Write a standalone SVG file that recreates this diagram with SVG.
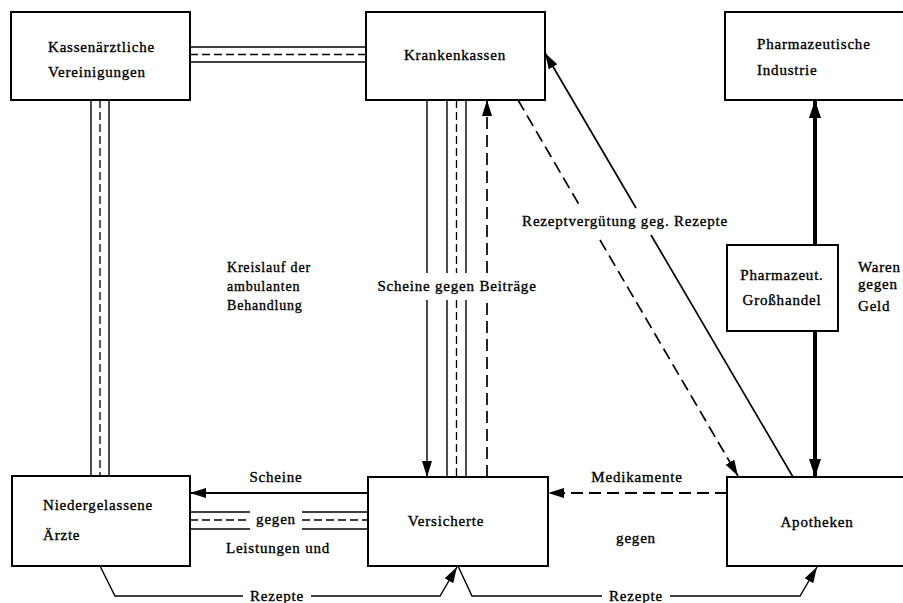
<svg xmlns="http://www.w3.org/2000/svg" width="903" height="603" viewBox="0 0 903 603">
<style>
.box{fill:#fff;stroke:#000;stroke-width:2}
.t{font-family:"Liberation Serif","DejaVu Serif",serif;font-size:15px;letter-spacing:0.8px;fill:#000;stroke:#000;stroke-width:0.35}
.s{fill:none;stroke:#000;stroke-width:1.4}
.d{fill:none;stroke:#000;stroke-width:1.3;stroke-dasharray:8 4}
.dl{fill:none;stroke:#000;stroke-width:1.7;stroke-dasharray:12 6}
.th{fill:none;stroke:#000;stroke-width:4}
</style>
<defs>
<marker id="ah" viewBox="0 0 16 10" refX="16" refY="5" markerWidth="16" markerHeight="10" orient="auto" markerUnits="userSpaceOnUse"><path d="M0,0 L16,5 L0,10 z" fill="#000"/></marker>
<marker id="ahb" viewBox="0 0 18 12" refX="18" refY="6" markerWidth="18" markerHeight="12" orient="auto" markerUnits="userSpaceOnUse"><path d="M0,0 L18,6 L0,12 z" fill="#000"/></marker>
</defs>
<rect width="903" height="603" fill="#fff"/>
<g id="connectors">
<line class="s" x1="190" y1="47" x2="366" y2="47"/>
<line class="d" x1="190" y1="54.5" x2="366" y2="54.5"/>
<line class="s" x1="190" y1="62" x2="366" y2="62"/>
<line class="s" x1="91" y1="100" x2="91" y2="476"/>
<line class="d" x1="100" y1="100" x2="100" y2="476"/>
<line class="s" x1="109" y1="100" x2="109" y2="476"/>
<line class="s" x1="427" y1="100" x2="427" y2="273"/>
<line class="s" x1="427" y1="300" x2="427" y2="477" marker-end="url(#ah)"/>
<line class="s" x1="447" y1="100" x2="447" y2="273"/>
<line class="s" x1="447" y1="300" x2="447" y2="477"/>
<line class="d" x1="456.5" y1="100" x2="456.5" y2="273"/>
<line class="d" x1="456.5" y1="300" x2="456.5" y2="477"/>
<line class="s" x1="466" y1="100" x2="466" y2="273"/>
<line class="s" x1="466" y1="300" x2="466" y2="477"/>
<line class="dl" x1="487" y1="477" x2="487" y2="300"/>
<line class="dl" x1="487" y1="273" x2="487" y2="100" marker-end="url(#ah)"/>
<line class="dl" x1="518" y1="100" x2="581" y2="208"/>
<line class="dl" x1="600" y1="240" x2="738" y2="476" marker-end="url(#ah)"/>
<line class="s" x1="793" y1="477" x2="651" y2="235" style="stroke-width:1.7"/>
<line class="s" x1="636" y1="208" x2="545" y2="53" marker-end="url(#ah)" style="stroke-width:1.7"/>
<line class="th" x1="815" y1="245" x2="815" y2="100" marker-end="url(#ahb)"/>
<line class="th" x1="815" y1="331" x2="815" y2="477" marker-end="url(#ahb)"/>
<line class="dl" x1="727" y1="493" x2="548" y2="493" marker-end="url(#ah)" style="stroke-width:2"/>
<line class="s" x1="368" y1="493" x2="190" y2="493" marker-end="url(#ah)" style="stroke-width:2"/>
<line class="s" x1="190" y1="512" x2="250" y2="512"/>
<line class="d" x1="190" y1="520" x2="250" y2="520"/>
<line class="s" x1="190" y1="529" x2="250" y2="529"/>
<line class="s" x1="302" y1="512" x2="368" y2="512"/>
<line class="d" x1="302" y1="520" x2="368" y2="520"/>
<line class="s" x1="302" y1="529" x2="368" y2="529"/>
<polyline class="s" points="100,566 115,596 243,596"/>
<polyline class="s" points="311,596 440,596 457,567" marker-end="url(#ah)"/>
<polyline class="s" points="458,566 472,596 602,596"/>
<polyline class="s" points="670,596 800,596 817,567" marker-end="url(#ah)"/>
</g>
<g id="kv"><rect class="box" x="11" y="12" width="179" height="88"/>
<text class="t" x="48" y="52">Kassenärztliche</text><text class="t" x="48" y="77">Vereinigungen</text></g>
<g id="kk"><rect class="box" x="366" y="12" width="179" height="88"/>
<text class="t" x="455" y="60" text-anchor="middle">Krankenkassen</text></g>
<g id="industrie"><rect class="box" x="725" y="12" width="190" height="88"/>
<text class="t" x="757" y="49">Pharmazeutische</text><text class="t" x="757" y="75">Industrie</text></g>
<g id="grosshandel"><rect class="box" x="727" y="245" width="111" height="86"/>
<text class="t" x="782" y="280" text-anchor="middle">Pharmazeut.</text><text class="t" x="782" y="305" text-anchor="middle">Großhandel</text></g>
<g id="aerzte"><rect class="box" x="12" y="476" width="178" height="90"/>
<text class="t" x="43" y="510">Niedergelassene</text><text class="t" x="43" y="540">Ärzte</text></g>
<g id="versicherte"><rect class="box" x="368" y="477" width="180" height="89"/>
<text class="t" x="446" y="526" text-anchor="middle">Versicherte</text></g>
<g id="apotheken"><rect class="box" x="727" y="477" width="190" height="89"/>
<text class="t" x="817" y="527" text-anchor="middle">Apotheken</text></g>
<g id="labels">
<text class="t" x="227" y="272" style="font-size:14px">Kreislauf der</text>
<text class="t" x="227" y="291" style="font-size:14px">ambulanten</text>
<text class="t" x="227" y="310" style="font-size:14px">Behandlung</text>
<text class="t" x="457" y="291" text-anchor="middle">Scheine gegen Beiträge</text>
<text class="t" x="625" y="226" text-anchor="middle">Rezeptvergütung geg. Rezepte</text>
<text class="t" x="858" y="272">Waren</text>
<text class="t" x="858" y="289">gegen</text>
<text class="t" x="858" y="311">Geld</text>
<text class="t" x="276" y="482" text-anchor="middle">Scheine</text>
<text class="t" x="276" y="524" text-anchor="middle">gegen</text>
<text class="t" x="278" y="553" text-anchor="middle">Leistungen und</text>
<text class="t" x="637" y="482" text-anchor="middle">Medikamente</text>
<text class="t" x="636" y="543" text-anchor="middle">gegen</text>
<text class="t" x="277" y="601" text-anchor="middle">Rezepte</text>
<text class="t" x="636" y="601" text-anchor="middle">Rezepte</text>
</g>
</svg>
